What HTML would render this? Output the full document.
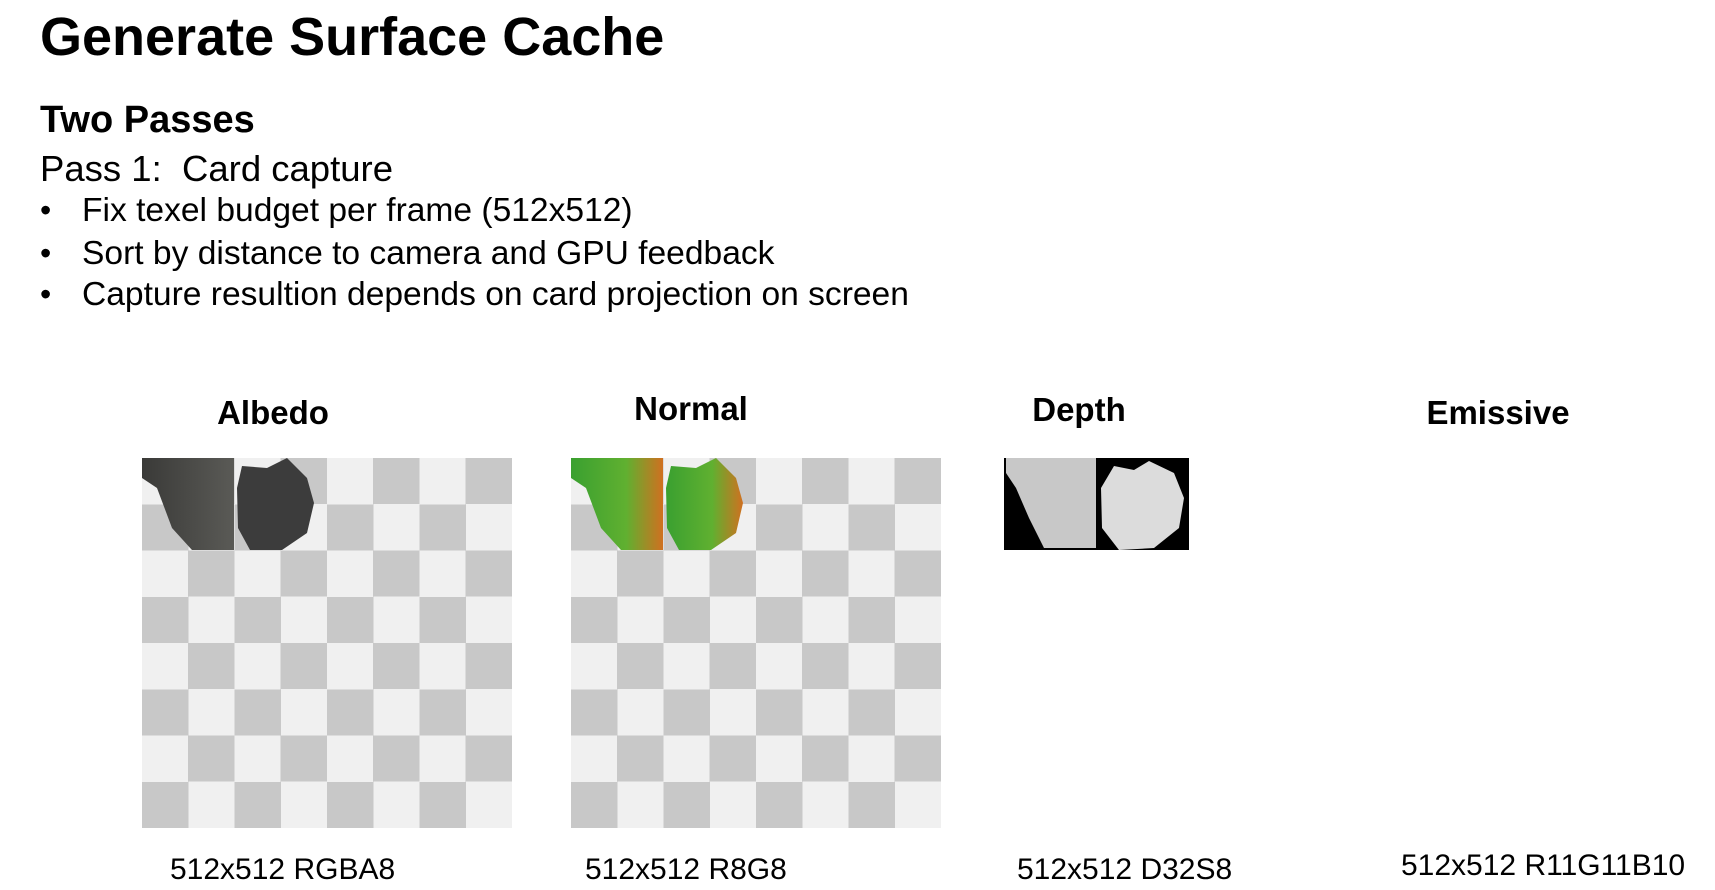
<!DOCTYPE html>
<html><head><meta charset="utf-8"><style>
html,body{margin:0;padding:0;background:#fff;width:1715px;height:890px;overflow:hidden;position:relative;font-family:"Liberation Sans",Arial,sans-serif;color:#000}
.a{position:absolute;white-space:nowrap}
.lbl{position:absolute;font-weight:bold;font-size:33px;transform:translateX(-50%)}
.bot{position:absolute;font-size:30px}
.chk{position:absolute;top:458px;width:370px;height:370px;
background:conic-gradient(#c8c8c8 0 25%,#f0f0f0 0 50%,#c8c8c8 0 75%,#f0f0f0 0);
background-size:92.5px 92.5px;background-position:0 0}
</style></head><body>
<div class="a" style="left:40px;top:6px;font-size:54px;font-weight:bold">Generate Surface Cache</div>
<div class="a" style="left:40px;top:99px;font-size:38px;font-weight:bold">Two Passes</div>
<div class="a" style="left:40px;top:148px;font-size:36.5px;font-weight:300">Pass 1:&nbsp;&nbsp;Card capture</div>
<div class="a" style="left:40px;top:192px;font-size:32px">•</div>
<div class="a" style="left:82px;top:192px;font-size:33.6px">Fix texel budget per frame (512x512)</div>
<div class="a" style="left:40px;top:235px;font-size:32px">•</div>
<div class="a" style="left:82px;top:235px;font-size:33.6px">Sort by distance to camera and GPU feedback</div>
<div class="a" style="left:40px;top:276px;font-size:32px">•</div>
<div class="a" style="left:82px;top:276px;font-size:33.6px">Capture resultion depends on card projection on screen</div>

<div class="lbl" style="left:273px;top:394px">Albedo</div>
<div class="lbl" style="left:691px;top:390px">Normal</div>
<div class="lbl" style="left:1079px;top:391px">Depth</div>
<div class="lbl" style="left:1498px;top:394px">Emissive</div>

<div class="chk" style="left:142px"></div>
<div class="chk" style="left:571px"></div>

<svg style="position:absolute;left:142px;top:458px" width="185" height="92">
<defs><linearGradient id="g1" x1="0" x2="1"><stop offset="0" stop-color="#3a3a38"/><stop offset="1" stop-color="#5a5a56"/></linearGradient></defs>
<polygon points="0,0 92,0 92,92 50,92 30,70 15,30 0,20" fill="url(#g1)"/>
<polygon points="100,8 125,10 145,0 165,20 172,45 165,75 140,92 108,92 96,70 95,30" fill="#3c3c3c"/>
</svg>
<svg style="position:absolute;left:571px;top:458px" width="185" height="92">
<defs><linearGradient id="g2" x1="0" x2="1"><stop offset="0" stop-color="#3aa030"/><stop offset="0.6" stop-color="#60b030"/><stop offset="1" stop-color="#d07020"/></linearGradient></defs>
<polygon points="0,0 92,0 92,92 50,92 30,70 15,30 0,20" fill="url(#g2)"/>
<polygon points="100,8 125,10 145,0 165,20 172,45 165,75 140,92 108,92 96,70 95,30" fill="url(#g2)"/>
</svg>
<svg style="position:absolute;left:1004px;top:458px" width="185" height="92">
<rect width="185" height="92" fill="#000"/>
<polygon points="2,0 92,0 92,90 40,90 25,60 12,30 2,15" fill="#c8c8c8"/>
<polygon points="110,8 130,12 145,3 170,15 180,40 175,70 150,90 115,92 98,70 97,30" fill="#dcdcdc"/>
</svg>

<div class="bot" style="left:170px;top:853px">512x512 RGBA8</div>
<div class="bot" style="left:585px;top:853px">512x512 R8G8</div>
<div class="bot" style="left:1017px;top:853px">512x512 D32S8</div>
<div class="bot" style="left:1401px;top:849px">512x512 R11G11B10</div>
</body></html>
